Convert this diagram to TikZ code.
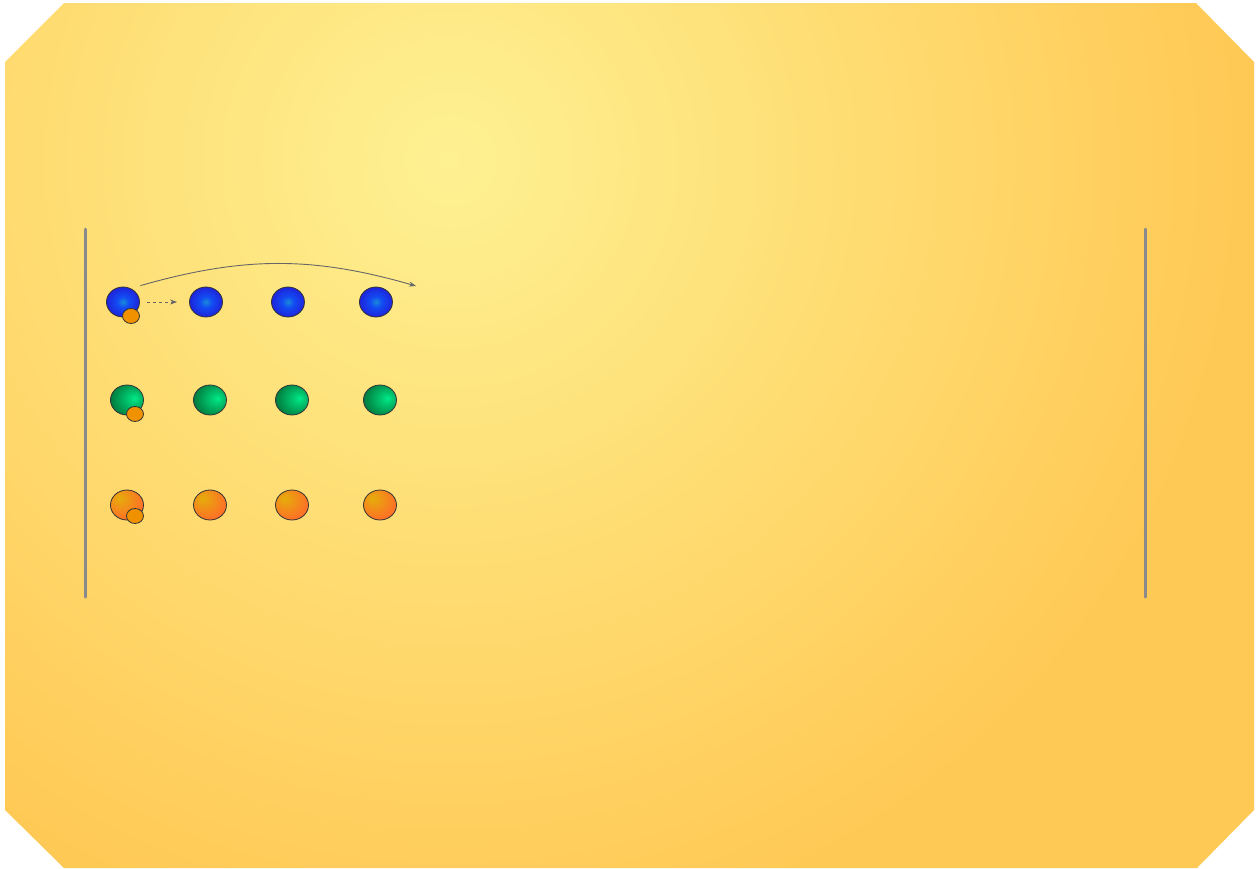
\documentclass[tikz,border=0pt]{standalone}
\usepackage{xcolor}
\usepackage{tikz}
\usetikzlibrary{arrows.meta,positioning,shapes.geometric}
\definecolor{bglight}{HTML}{FEF192}
\definecolor{bgdark}{HTML}{FFC955}
\definecolor{railgray}{HTML}{8A8A8C}
\definecolor{tokenorange}{HTML}{F09200}
\definecolor{ringline}{HTML}{333333}
\pgfdeclareradialshading{bgglow}{\pgfpoint{0bp}{0bp}}{color(0bp)=(bglight); color(18bp)=(bgdark); color(50bp)=(bgdark)}
\pgfdeclareradialshading{blueball}{\pgfpoint{0bp}{0bp}}{rgb(0bp)=(0.1,0.55,0.85); rgb(9bp)=(0.07,0.3,0.95); rgb(25bp)=(0.12,0.14,0.86); rgb(50bp)=(0.12,0.14,0.86)}
\pgfdeclareradialshading{greenball}{\pgfpoint{12bp}{3bp}}{rgb(0bp)=(0,0.92,0.55); rgb(8bp)=(0,0.8,0.45); rgb(38bp)=(0,0.38,0.18); rgb(60bp)=(0,0.38,0.18)}
\pgfdeclareradialshading{orangeball}{\pgfpoint{-12bp}{12bp}}{rgb(0bp)=(0.9,0.68,0.04); rgb(34bp)=(1,0.42,0.16); rgb(46bp)=(0.92,0.35,0.15); rgb(70bp)=(0.92,0.35,0.15)}

\begin{document}
\begin{tikzpicture}[x=1pt, y=-1pt,
  ball/.style={ellipse, draw=ringline, line width=0.8pt, inner sep=0pt, minimum width=33pt, minimum height=30pt},
  token/.style={ellipse, draw=ringline, line width=0.8pt, fill=tokenorange, inner sep=0pt, minimum width=17pt, minimum height=15pt},
  rail/.style={draw=railgray, line width=3pt, line cap=round},
  hop/.style={draw=black!60, line width=0.9pt, -{Stealth[length=7pt, width=5pt]}}]
\useasboundingbox (0,0) rectangle (1259,868);
% background
\begin{scope}
  \clip (64,3) -- (1196,3) -- (1254,62) -- (1254,810) -- (1197,868) -- (64,868) -- (5,810) -- (5,62) -- cycle;
  \shade[shading=bgglow] (450,160) circle (1100);
\end{scope}
% rails
\draw[rail] (85,229) -- (85,597);
\draw[rail] (1145,229) -- (1145,597);
% rows of balls
\foreach \i/\x in {1/123,2/206,3/288,4/376}
  \node[ball, shading=blueball] (b\i) at (\x,302) {};
\foreach \i/\x in {1/127,2/210,3/292,4/380}
  \node[ball, shading=greenball] (g\i) at (\x,400) {};
\foreach \i/\x in {1/127,2/210,3/292,4/380}
  \node[ball, shading=orangeball] (o\i) at (\x,505) {};
% tokens
\node[token] (tb) at (131,316) {};
\node[token] (tg) at (135,414) {};
\node[token] (to) at (135,516) {};
% arrows
\draw[hop, dashed, shorten <=7pt, shorten >=12pt] (b1.east) -- (b2.west);
\coordinate (jump) at (416,286);
\draw[hop] (b1.45) ++(6,-5) coordinate (lift) (lift) to[bend left=16] (jump);
\end{tikzpicture}
\end{document}
